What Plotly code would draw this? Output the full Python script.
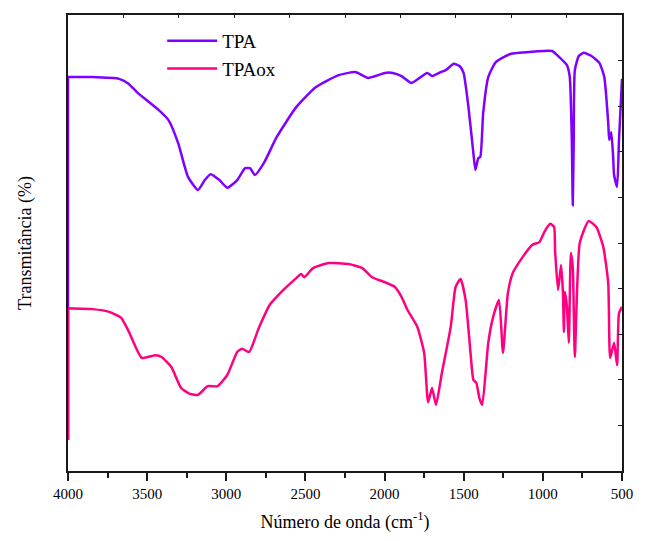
import plotly.graph_objects as go

# ---- data (wavenumber in cm-1, transmittance in arbitrary % units) ----
tpa_x = [4000, 4000, 3850, 3677, 3620, 3565, 3428, 3366, 3304, 3242, 3179, 3136, 3099, 3043, 2993,
         2931, 2881, 2850, 2819, 2763, 2682, 2558, 2433, 2290, 2185, 2104, 1998, 1948,
         1893, 1830, 1731, 1700, 1644, 1613, 1563, 1526, 1501, 1470, 1439, 1426, 1408,
         1395, 1377, 1345, 1296, 1209, 1147, 941, 910, 848, 830, 817, 811, 805, 798, 773,
         742, 693, 643, 612, 587, 581, 568, 556, 550, 531, 519, 500]
tpa_y = [6.8, 86.4, 86.4, 86.0, 85.0, 83.1, 79.2, 77.0, 71.9, 64.5, 61.6, 63.8, 65.1, 63.8, 62.1,
         63.8, 66.4, 66.4, 64.9, 67.5, 73.2, 79.8, 84.2, 86.8, 87.5, 86.2, 87.3, 87.3,
         86.6, 85.1, 87.3, 86.6, 87.5, 87.9, 89.3, 88.8, 87.3, 79.8, 69.7, 66.0, 68.6,
         68.9, 78.5, 86.4, 89.7, 91.4, 91.7, 92.1, 91.2, 89.0, 86.4, 72.6, 58.3, 72.6, 87.9,
         91.0, 91.7, 91.0, 89.5, 86.4, 76.3, 72.6, 74.3, 68.9, 64.9, 62.3, 72.6, 86.0]

tpaox_x = [4000, 4000, 3845, 3739, 3664, 3615, 3534, 3447, 3409, 3347, 3285, 3229, 3179,
           3117, 3055, 2993, 2931, 2900, 2856, 2794, 2726, 2639, 2558, 2527, 2508, 2452,
           2353, 2228, 2141, 2079, 1998, 1936, 1893, 1855, 1793, 1750, 1725, 1700, 1675,
           1638, 1582, 1551, 1520, 1488, 1457, 1439, 1420, 1401, 1383, 1345, 1314, 1277,
           1252, 1221, 1190, 1128, 1066, 1022, 991, 954, 929, 923, 904, 885, 873, 867, 861,
           848, 836, 823, 811, 798, 767, 711, 662, 618, 587, 575, 550, 531, 519, 500]
tpaox_y = [6.8, 35.7, 35.5, 34.9, 33.6, 30.5, 24.8, 25.4, 25.0, 22.8, 18.2, 16.9, 16.7,
           18.6, 18.6, 21.1, 26.1, 26.8, 26.1, 31.4, 36.4, 39.7, 42.3, 43.2, 42.5, 44.5,
           45.6, 45.4, 44.5, 42.5, 41.4, 40.4, 38.2, 35.3, 31.6, 25.9, 15.1, 18.2, 14.5,
           21.5, 31.6, 40.4, 42.1, 37.5, 25.9, 20.0, 19.3, 16.0, 14.5, 28.1, 33.8, 37.5,
           25.9, 39.0, 43.4, 46.9, 49.6, 50.2, 52.4, 54.2, 53.5, 48.5, 39.7, 45.2, 39.0,
           30.5, 39.3, 36.0, 28.1, 47.8, 44.7, 25.0, 50.0, 54.8, 53.5, 49.1, 41.2, 24.8,
           28.1, 23.2, 34.6, 36.0]

x_ticks = [4000, 3500, 3000, 2500, 2000, 1500, 1000, 500]

FONT = "Liberation Serif"
AX = "#1a1a1a"
C_TPA = "#8000FF"
C_OX = "#FF0080"

fig = go.Figure()
# vertical start segments (straight lines)
fig.add_trace(go.Scatter(x=tpa_x[:2], y=tpa_y[:2], mode="lines", showlegend=False,
                         hoverinfo="skip", line=dict(color=C_TPA, width=2.5)))
fig.add_trace(go.Scatter(x=tpa_x[1:], y=tpa_y[1:], mode="lines", name="TPA",
                         line=dict(color=C_TPA, width=2.5, shape="spline", smoothing=0.5)))
fig.add_trace(go.Scatter(x=tpaox_x[:2], y=tpaox_y[:2], mode="lines", showlegend=False,
                         hoverinfo="skip", line=dict(color=C_OX, width=2.5)))
fig.add_trace(go.Scatter(x=tpaox_x[1:], y=tpaox_y[1:], mode="lines", name="TPAox",
                         line=dict(color=C_OX, width=2.5, shape="spline", smoothing=0.5)))
# invisible trace so the mirror (top/right) axes are drawn
fig.add_trace(go.Scatter(x=[None], y=[None], xaxis="x2", yaxis="y2",
                         showlegend=False, hoverinfo="skip"))

fig.update_layout(
    width=645, height=541,
    margin=dict(l=68, r=13, t=15, b=70),
    paper_bgcolor="white", plot_bgcolor="white",
    font=dict(family=FONT, size=15, color="black"),
    showlegend=True,
    legend=dict(x=0.17, y=0.985, xanchor="left", yanchor="top",
                bgcolor="rgba(0,0,0,0)", font=dict(family=FONT, size=19),
                tracegroupgap=0, itemwidth=50),
    xaxis=dict(range=[4000, 500], tickmode="array", tickvals=x_ticks,
               ticktext=[str(v) for v in x_ticks],
               ticks="outside", ticklen=8, tickwidth=1.5, tickcolor=AX,
               minor=dict(dtick=250, tick0=500, ticks="outside", ticklen=5,
                          tickwidth=1.5, tickcolor=AX),
               showline=True, linecolor=AX, linewidth=2, showgrid=False,
               zeroline=False, tickfont=dict(family=FONT, size=15),
               title=dict(text="Número de onda (cm<sup>-1</sup>)",
                          font=dict(family=FONT, size=18), standoff=14)),
    yaxis=dict(range=[0, 100], showticklabels=False, ticks="",
               showline=True, linecolor=AX, linewidth=2, showgrid=False,
               zeroline=False,
               title=dict(text="Transmitância (%)",
                          font=dict(family=FONT, size=18), standoff=30)),
    xaxis2=dict(range=[4000, 500], overlaying="x", side="top",
                tickmode="linear", tick0=500, dtick=350,
                ticks="inside", ticklen=3, tickwidth=1, tickcolor=AX,
                showticklabels=False, showline=True, linecolor=AX, linewidth=2,
                showgrid=False, zeroline=False),
    yaxis2=dict(range=[0, 100], overlaying="y", side="right",
                tickmode="linear", tick0=0, dtick=10,
                ticks="inside", ticklen=4, tickwidth=1, tickcolor=AX,
                showticklabels=False, showline=True, linecolor=AX, linewidth=2,
                showgrid=False, zeroline=False),
)

fig.write_html("out.html")
